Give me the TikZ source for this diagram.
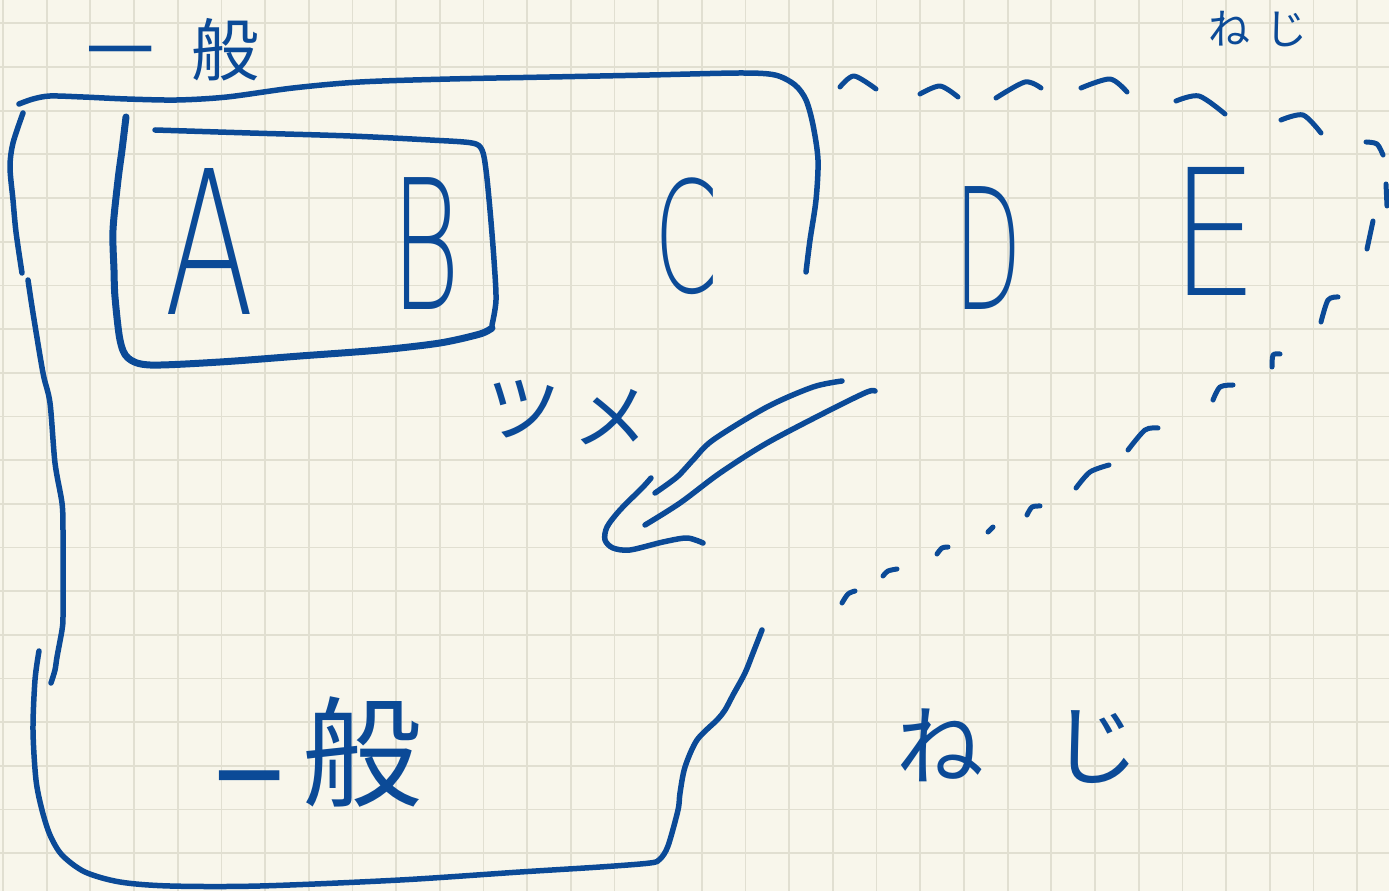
\documentclass[tikz,border=0pt]{standalone}
\usepackage{fontspec}
\usepackage{graphicx}
\newfontfamily\jpfont{Noto Sans CJK JP}
\newfontfamily\ltrfont{DejaVu Sans ExtraLight}
\definecolor{ink}{HTML}{0B4A97}
\definecolor{paper}{HTML}{F8F6EB}
\definecolor{gridc}{HTML}{E1DFD1}
\tikzset{
  pen/.style={draw=ink, line width=0.11cm, line cap=round, line join=round},
  thickpen/.style={pen, line width=0.14cm},
  dashpen/.style={pen, line width=0.1cm},
  jp/.style={text=ink, inner sep=0pt},
  ltr/.style={text=ink, inner sep=0pt, anchor=base, font=\ltrfont\fontsize{100pt}{100pt}\selectfont},
}
\begin{document}
\begin{tikzpicture}[x=0.02cm, y=-0.02cm]
\useasboundingbox (0,0) rectangle (1389,891);
\fill[paper] (0,0) rectangle (1389,891);
\foreach \k in {0,...,31} \draw[gridc, line width=0.035cm] ({3+43.68*\k},0) -- ({3+43.68*\k},891);
\foreach \k in {0,...,19} \draw[gridc, line width=0.035cm] (0,{23.3+43.68*\k}) -- (1389,{23.3+43.68*\k});

% outer "general" box
\draw[pen] plot[smooth, tension=0.5] coordinates {(19,104) (33,99) (50,96) (83,97) (127,99) (177,100) (227,97) (293,88) (360,82) (450,79) (550,77) (650,75) (740,73) (775,75) (795,85) (806,100) (813,125) (818,160) (816,200) (810,240) (806,272)};
\draw[pen] plot[smooth, tension=0.5] coordinates {(23,113) (13,143) (10,167) (13,200) (16,232) (22,273)};
\draw[pen] plot[smooth, tension=0.5] coordinates {(28,280) (33,313) (43,373) (50,403) (55,463) (62,503) (63,530) (63,580) (63,617) (62,630) (57,657) (55,670) (51,683)};
\draw[pen] plot[smooth, tension=0.5] coordinates {(39,651) (35,680) (33,730) (36,780) (42,810) (50,835) (62,855) (85,872) (120,882) (170,886) (260,886) (400,880) (520,872) (600,867) (650,863) (660,859) (668,846) (678,810) (680,793) (685,767) (697,740) (717,720) (725,710) (733,695) (745,673) (753,653) (762,630)};

% inner A-B box
\draw[thickpen] plot[smooth, tension=0.5] coordinates {(126,117) (122,150) (118,180) (113,230) (114,270) (115,297) (120,340) (128,358) (150,365) (220,362) (300,356) (380,350) (440,343) (480,334) (492,328)};
\draw[pen] plot[smooth, tension=0.5] coordinates {(155,130) (250,133) (350,136) (430,140) (472,143) (482,150) (486,170) (490,210) (494,260) (496,300) (492,325)};

% letters
\node[ltr] (A) at (210,315) {\scalebox{0.75}[1.14]{A}};
\node[ltr] (B) at (426,310) {\scalebox{0.6}[1.03]{B}};
\node[ltr] (C) at (686,293) {\scalebox{0.52}[0.88]{C}};
\node[ltr] (D) at (988,310) {\scalebox{0.5}[0.96]{D}};
\node[ltr] (E) at (1215,296) {\scalebox{0.78}[1.0]{E}};

% dashed "neji" region
\draw[dashpen] plot[smooth] coordinates {(840,87) (854,76) (876,89)};
\draw[dashpen] plot[smooth] coordinates {(920,94) (940,86) (958,97)};
\draw[dashpen] plot[smooth] coordinates {(996,98) (1025,82) (1041,88)};
\draw[dashpen] plot[smooth] coordinates {(1081,88) (1110,79) (1127,92)};
\draw[dashpen] plot[smooth] coordinates {(1176,101) (1199,96) (1225,114)};
\draw[dashpen] plot[smooth] coordinates {(1281,120) (1303,115) (1321,133)};
\draw[dashpen] plot[smooth] coordinates {(1366,142) (1377,144) (1383,155)};
\draw[dashpen] (1386,184) -- (1387,206);
\draw[dashpen] (1373,221) -- (1367,249);
\draw[dashpen] plot[smooth] coordinates {(1338,297) (1328,300) (1321,322)};
\draw[dashpen] plot[smooth] coordinates {(1280,354) (1273,355) (1272,367)};
\draw[dashpen] plot[smooth] coordinates {(1233,385) (1220,387) (1213,400)};
\draw[dashpen] plot[smooth] coordinates {(1158,428) (1145,430) (1128,450)};
\draw[dashpen] plot[smooth] coordinates {(1109,465) (1090,472) (1076,488)};
\draw[dashpen] plot[smooth] coordinates {(1040,506) (1032,507) (1027,515)};
\draw[dashpen] (993,527) -- (988,532);
\draw[dashpen] plot[smooth] coordinates {(948,547) (942,548) (937,554)};
\draw[dashpen] plot[smooth] coordinates {(897,569) (888,571) (883,576)};
\draw[dashpen] plot[smooth] coordinates {(855,591) (848,594) (842,603)};

% hollow arrow
\draw[pen] plot[smooth, tension=0.5] coordinates {(842,381) (813,387) (767,407) (713,440) (693,460) (677,477) (655,493)};
\draw[pen] plot[smooth, tension=0.5] coordinates {(875,391) (867,392) (830,410) (767,443) (720,473) (680,503) (645,525)};
\draw[pen] plot[smooth, tension=0.5] coordinates {(651,478) (643,487) (620,510) (607,527) (605,540) (613,548) (630,550) (663,542) (687,538) (703,543)};

% texts
\node[jp, font=\jpfont\fontsize{38.7pt}{38.7pt}\selectfont] (gentop) at (173,50) {一\hspace{0.76cm}般};
\node[jp, font=\jpfont\fontsize{23.9pt}{23.9pt}\selectfont] (nejitop) at (1258,29) {ね\hspace{0.32cm}じ};
\node[jp, font=\jpfont\fontsize{42.7pt}{42.7pt}\selectfont, rotate=-5] (tsume) at (567,414) {ツ\hspace{0.3cm}メ};
\node[jp, font=\jpfont\fontsize{68.3pt}{68.3pt}\selectfont] (genbot) at (319,759.5) {\scalebox{0.55}[1]{一}\hspace{0.4cm}\raisebox{0.5cm}{般}};
\node[jp, font=\jpfont\fontsize{50pt}{50pt}\selectfont] (nejibot) at (1018,746) {ね\hspace{1.34cm}じ};
\end{tikzpicture}
\end{document}
